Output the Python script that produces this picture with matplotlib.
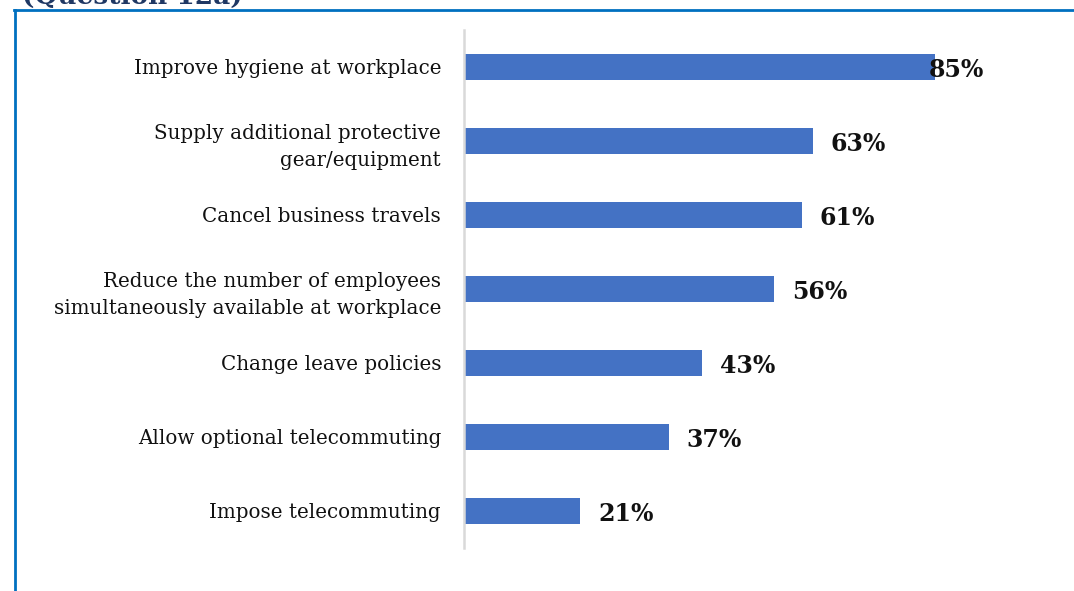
import matplotlib.pyplot as plt
from matplotlib.lines import Line2D

categories = [
    "Improve hygiene at workplace",
    "Supply additional protective\ngear/equipment",
    "Cancel business travels",
    "Reduce the number of employees\nsimultaneously available at workplace",
    "Change leave policies",
    "Allow optional telecommuting",
    "Impose telecommuting",
]
values = [85, 63, 61, 56, 43, 37, 21]

plt.rcParams['font.family'] = ['DejaVu Serif']

fig = plt.figure(figsize=(10.74, 5.91), dpi=100)
ax = fig.add_axes([464 / 1074, 43 / 591, 554 / 1074, 518 / 591])

pos = list(range(len(categories)))
ax.barh(pos, values, height=0.35, color='#4472C4')
ax.set_ylim(len(categories) - 0.5, -0.5)
ax.set_xlim(0, 100)
ax.set_yticks(pos)
ax.set_yticklabels(categories, fontsize=14.3, color='#111111', linespacing=1.5)
ax.tick_params(axis='y', length=0, pad=16.5)
ax.set_xticks([])

for s in ['top', 'right', 'bottom']:
    ax.spines[s].set_visible(False)
ax.spines['left'].set_color('#d9d9d9')
ax.spines['left'].set_linewidth(1.8)

# data labels, clamped at the plot edge like the original
for i, v in enumerate(values):
    ax.text(min(v + 3.2, 83.8), i + 0.04, f"{v}%", va='center', ha='left',
            fontsize=17, fontweight='bold', color='#111111')

# page frame and cut-off heading
fig.add_artist(Line2D([14 / 1074, 1], [1 - 10 / 591] * 2, color='#0070C0', lw=2))
fig.add_artist(Line2D([15 / 1074] * 2, [0, 1 - 10 / 591], color='#0070C0', lw=2))
fig.text(22 / 1074, 1 - 3.5 / 591, "(Question 12a)", fontsize=19, fontweight='bold',
         color='#1F3864', va='baseline', ha='left')

fig.savefig('out.png', dpi=100)
